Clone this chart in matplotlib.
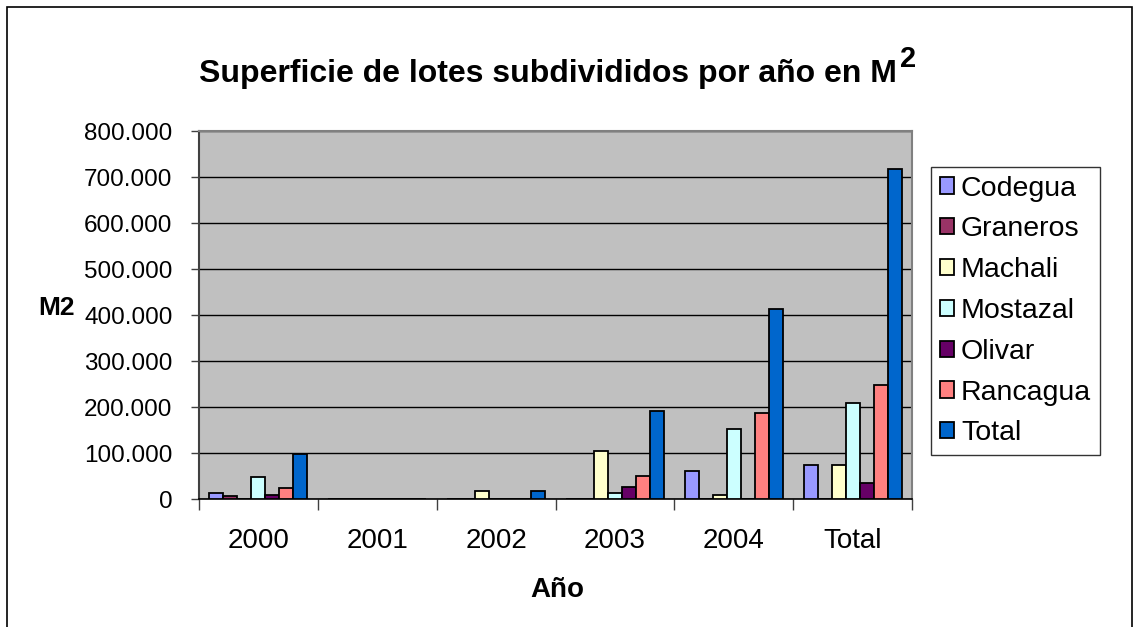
import matplotlib
matplotlib.use("Agg")
import matplotlib.pyplot as plt
from matplotlib.patches import Rectangle
from matplotlib.ticker import FuncFormatter, FixedLocator
import numpy as np

plt.rcParams['font.family'] = ['Liberation Sans', 'DejaVu Sans']

# superficie en M2 por comuna y por año
years = ['2000', '2001', '2002', '2003', '2004', 'Total']
codegua = [14000, 0, 0, 0, 61500, 73000]
graneros = [6000, 0, 0, 0, 0, 0]
machali = [0, 0, 18000, 105000, 9000, 73000]
mostazal = [48000, 0, 0, 14000, 152000, 209000]
olivar = [9000, 0, 0, 27000, 0, 35000]
rancagua = [23000, 0, 0, 49000, 187000, 248000]
total = [97000, 0, 18000, 192000, 413000, 717000]

series = [('Codegua', codegua, '#9999FF'),
          ('Graneros', graneros, '#993366'),
          ('Machali', machali, '#FFFFCC'),
          ('Mostazal', mostazal, '#CCFFFF'),
          ('Olivar', olivar, '#660066'),
          ('Rancagua', rancagua, '#FF8080'),
          ('Total', total, '#0066CC')]

fig = plt.figure(figsize=(11.33, 6.27), dpi=100)
ax = fig.add_axes([199 / 1133, 1 - 499 / 627, 713 / 1133, 368 / 627])
ax.set_facecolor('#C0C0C0')

x = np.arange(len(years))
w = 1 / 8.5
for i, (name, vals, col) in enumerate(series):
    ax.bar(x + (i - 3) * w, vals, width=w, color=col, edgecolor='black',
           linewidth=1.3, label=name, zorder=3)

ax.set_xlim(-0.5, len(years) - 0.5)
ax.set_ylim(0, 800000)
ax.set_yticks(np.arange(0, 800001, 100000))
ax.yaxis.set_major_formatter(FuncFormatter(lambda v, p: f"{int(v):,}".replace(',', '.')))
ax.grid(axis='y', color='black', linewidth=1, zorder=1)

ax.set_xticks(x)
ax.set_xticklabels(years)
ax.xaxis.set_minor_locator(FixedLocator(np.arange(-0.5, len(years), 1)))
ax.tick_params(axis='x', which='major', length=0, pad=21, labelsize=20)
ax.tick_params(axis='x', which='minor', length=8, width=1, color='#404040')
ax.tick_params(axis='y', length=6, width=1, labelsize=17.5, pad=13, color='#404040')

for s in ['top', 'right']:
    ax.spines[s].set_color('#808080')
    ax.spines[s].set_linewidth(1.5)
ax.spines['left'].set_color('#404040')
ax.spines['left'].set_linewidth(1.5)
ax.spines['bottom'].set_color('black')
ax.spines['bottom'].set_linewidth(1.2)

# titulo con el exponente dibujado aparte
fig.text(897 / 1133, 1 - 82 / 627, 'Superficie de lotes subdivididos por año en M',
         ha='right', va='baseline', fontsize=23, fontweight='bold')
fig.text(900 / 1133, 1 - 67 / 627, '2', ha='left', va='baseline',
         fontsize=21, fontweight='bold')
fig.text(56 / 1133, 1 - 308 / 627, 'M2', ha='center', va='center', fontsize=19, fontweight='bold')
fig.text(557 / 1133, 1 - 590 / 627, 'Año', ha='center', va='center', fontsize=20, fontweight='bold')

leg = fig.legend(loc='upper left', bbox_to_anchor=(931 / 1133, 1 - 167 / 627),
                 fontsize=20.5, frameon=True, fancybox=False, edgecolor='black',
                 handlelength=0.5, handleheight=0.5, handletextpad=0.25,
                 labelspacing=0.52, borderpad=0.3, borderaxespad=0)
leg.get_frame().set_linewidth(1)

fig.patches.append(Rectangle((6.5 / 1133, -0.02), 1125 / 1133, 1.02 - 7 / 627,
                             transform=fig.transFigure, fill=False,
                             edgecolor='black', linewidth=1.2))

plt.savefig('out.png', dpi=100)
